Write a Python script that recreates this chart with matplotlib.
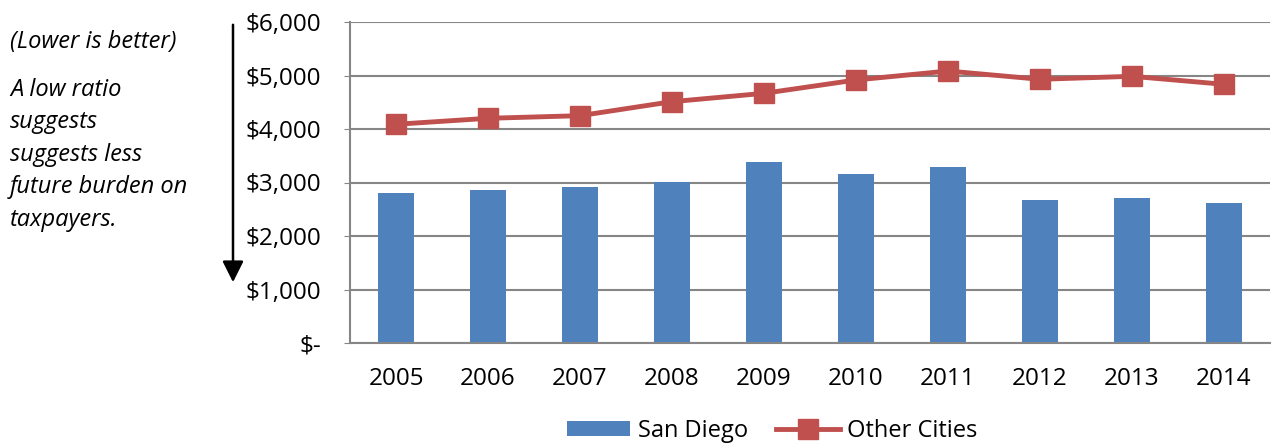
import matplotlib
matplotlib.use("Agg")
import matplotlib.pyplot as plt
from matplotlib.ticker import FuncFormatter

years = ["2005", "2006", "2007", "2008", "2009", "2010", "2011", "2012", "2013", "2014"]
san_diego = [2798, 2854, 2910, 3016, 3389, 3165, 3296, 2673, 2704, 2617]
other_cities = [4088, 4200, 4249, 4511, 4667, 4916, 5084, 4929, 4985, 4835]
yticks = [0, 1000, 2000, 3000, 4000, 5000, 6000]

plt.rcParams['font.family'] = ['Open Sans', 'DejaVu Sans']

fig = plt.figure(figsize=(12.78, 4.43), dpi=100)
ax = fig.add_axes([350/1278, 100/443, 920/1278, 321/443])

x = list(range(len(years)))
bar_color = "#4F81BD"
line_color = "#C0504D"
bars = ax.bar(x, san_diego, width=0.4, color=bar_color, label="San Diego", zorder=2)
line, = ax.plot(x, other_cities, color=line_color, lw=3.5, marker="s", markersize=15,
                label="Other Cities", zorder=3)

ax.set_ylim(0, 6000)
ax.set_xlim(-0.5, len(years) - 0.5)
ax.set_yticks(yticks)
ax.yaxis.set_major_formatter(FuncFormatter(lambda v, p: "$-" if v == 0 else "${:,.0f}".format(v)))
ax.set_xticks(x)
ax.set_xticklabels(years)
ax.grid(axis="y", color="#868686", lw=1.5, zorder=0)
ax.set_axisbelow(True)
for s in ["top", "right"]:
    ax.spines[s].set_visible(False)
for s in ["left", "bottom"]:
    ax.spines[s].set_color("#868686")
    ax.spines[s].set_linewidth(1.5)
ax.tick_params(axis="y", length=4, color="#868686", labelsize=17.5, pad=17)
ax.tick_params(axis="x", length=0, labelsize=17.5, pad=17)

fig.text(10/1278, 1 - 42/443, "(Lower is better)", style="italic", fontsize=17, va="center", ha="left")
fig.text(10/1278, 1 - 78/443, "A low ratio\nsuggests\nsuggests less\nfuture burden on\ntaxpayers.",
         style="italic", fontsize=17, va="top", ha="left", linespacing=1.47)
fig.add_artist(matplotlib.patches.FancyArrowPatch((233/1278, 1 - 22/443), (233/1278, 1 - 285/443),
                                                  transform=fig.transFigure, arrowstyle="-|>,head_length=8,head_width=4",
                                                  mutation_scale=1.6, color="black", lw=1.8))

leg = ax.legend([bars, line], ["San Diego", "Other Cities"], loc="center",
                bbox_to_anchor=((772 - 350) / 920, -88/321), ncol=2, frameon=False,
                fontsize=17, handlelength=2.7, handleheight=0.6, columnspacing=1.2, handletextpad=0.3)

fig.savefig("out.png", dpi=100)
